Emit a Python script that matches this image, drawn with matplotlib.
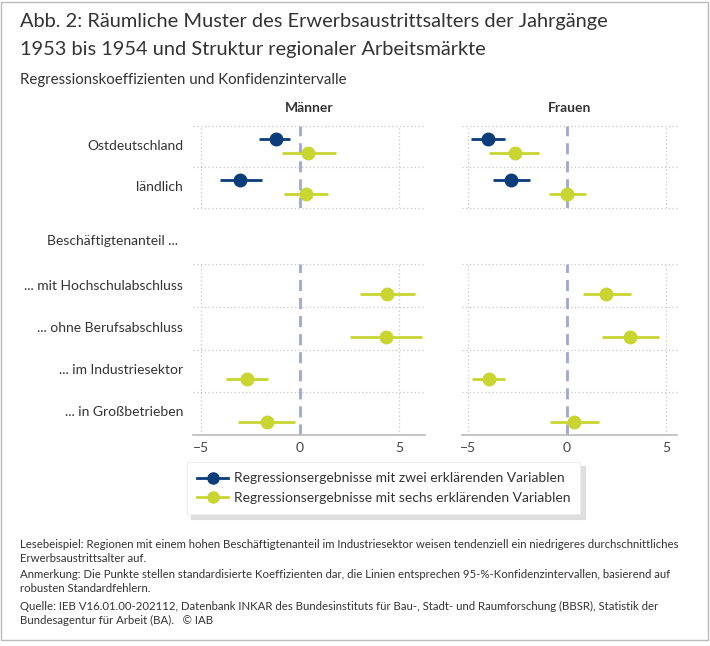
import matplotlib
matplotlib.use("Agg")
import matplotlib.pyplot as plt
from matplotlib.lines import Line2D
from matplotlib.patches import Rectangle

plt.rcParams["font.family"] = ["Lato", "DejaVu Sans"]

# Data
rows_top = ["Ostdeutschland", "ländlich"]
rows_bottom = ["... mit Hochschulabschluss", "... ohne Berufsabschluss",
               "... im Industriesektor", "... in Großbetrieben"]
panels = ["Männer", "Frauen"]

# two explanatory variables (only the top rows)
m_zwei = [-1.23, -3.01]
m_zwei_lo = [-2.07, -4.06]
m_zwei_hi = [-0.50, -1.94]
f_zwei = [-3.98, -2.81]
f_zwei_lo = [-4.87, -3.74]
f_zwei_hi = [-3.15, -1.88]

# six explanatory variables (top rows + bottom rows)
m_sechs = [0.42, 0.29, 4.38, 4.34, -2.68, -1.67]
m_sechs_lo = [-0.93, -0.79, 3.03, 2.53, -3.74, -3.11]
m_sechs_hi = [1.82, 1.40, 5.81, 6.16, -1.63, -0.24]
f_sechs = [-2.64, 0.00, 1.99, 3.19, -3.96, 0.36]
f_sechs_lo = [-3.95, -0.91, 0.81, 1.74, -4.82, -0.86]
f_sechs_hi = [-1.43, 0.95, 3.21, 4.62, -3.12, 1.60]

legend_labels = ["Regressionsergebnisse mit zwei erklärenden Variablen",
                 "Regressionsergebnisse mit sechs erklärenden Variablen"]

BLUE = "#0a3d7a"
YELLOW = "#c9d531"
ZERO = "#9ea8d0"
GRID = "#c8c8c8"
TXT = "#333333"

W, H = 710, 646
fig = plt.figure(figsize=(W / 100, H / 100), dpi=100)


def rect(x0, y0, x1, y1):
    return [x0 / W, 1 - y1 / H, (x1 - x0) / W, (y1 - y0) / H]


def style(ax, nrows, xlim, bottom):
    ax.set_xlim(*xlim)
    ax.set_ylim(nrows, 0)
    for s in ax.spines.values():
        s.set_visible(False)
    ax.set_yticks([])
    for i in range(nrows + (0 if bottom else 1)):
        ax.axhline(i, color=GRID, lw=0.9, ls=(0, (1, 2)), zorder=0, clip_on=False)
    for xv in [-5, 5]:
        ax.axvline(xv, color=GRID, lw=0.9, ls=(0, (1, 2)), zorder=0)
    ax.axvline(0, color=ZERO, lw=2, ls=(0, (4, 2.5)), zorder=1)
    if bottom:
        ax.spines["bottom"].set_visible(True)
        ax.spines["bottom"].set_color("#bbbbbb")
        ax.spines["bottom"].set_linewidth(1.2)
        ax.set_xticks([-5, 0, 5])
        ax.set_xticklabels(["\u22125", "0", "5"])
        ax.tick_params(axis="x", length=0, pad=5, labelsize=10, labelcolor="#444444")
    else:
        ax.set_xticks([])


def draw(ax, rows, coef, lo, hi, offset, color):
    for i, r in enumerate(rows):
        y = r + offset
        ax.plot([lo[i], hi[i]], [y, y], color=color, lw=2, solid_capstyle="butt", zorder=2)
        ax.plot(coef[i], y, "o", color=color, ms=9, zorder=3)


xlims = [(-5.4, 6.3), (-5.3, 5.55)]
xpix = [(193, 425), (462, 677)]
zwei = [(m_zwei, m_zwei_lo, m_zwei_hi), (f_zwei, f_zwei_lo, f_zwei_hi)]
sechs = [(m_sechs, m_sechs_lo, m_sechs_hi), (f_sechs, f_sechs_lo, f_sechs_hi)]

for p in range(2):
    x0, x1 = xpix[p]
    ax_t = fig.add_axes(rect(x0, 126, x1, 208))
    ax_b = fig.add_axes(rect(x0, 264, x1, 435))
    style(ax_t, 2, xlims[p], False)
    style(ax_b, 4, xlims[p], True)
    c, lo, hi = zwei[p]
    draw(ax_t, [0, 1], c, lo, hi, 0.32, BLUE)
    c, lo, hi = sechs[p]
    draw(ax_t, [0, 1], c[:2], lo[:2], hi[:2], 0.66, YELLOW)
    draw(ax_b, [0, 1, 2, 3], c[2:], lo[2:], hi[2:], 0.70, YELLOW)
    ax_t.set_title(panels[p], fontsize=10, fontweight="bold", color=TXT, pad=10)

# row labels
for lab, y in zip(rows_top, [146, 187]):
    fig.text(183 / W, 1 - y / H, lab, ha="right", va="center", fontsize=10, color=TXT)
fig.text(47 / W, 1 - 241 / H, "Beschäftigtenanteil ...", ha="left", va="center",
         fontsize=10, color=TXT)
for lab, y in zip(rows_bottom, [286, 328, 370, 412]):
    fig.text(183 / W, 1 - y / H, lab, ha="right", va="center", fontsize=10, color=TXT)

# titles
fig.text(20 / W, 1 - 22 / H, "Abb. 2: Räumliche Muster des Erwerbsaustrittsalters der Jahrgänge",
         ha="left", va="center", fontsize=14.4, color=TXT)
fig.text(20 / W, 1 - 49 / H, "1953 bis 1954 und Struktur regionaler Arbeitsmärkte",
         ha="left", va="center", fontsize=14.4, color=TXT)
fig.text(20 / W, 1 - 80 / H, "Regressionskoeffizienten und Konfidenzintervalle",
         ha="left", va="center", fontsize=10.8, color=TXT)

# legend
handles = [Line2D([0], [0], color=BLUE, lw=2, marker="o", ms=8),
           Line2D([0], [0], color=YELLOW, lw=2, marker="o", ms=8)]
leg = fig.legend(handles, legend_labels, loc="upper left",
                 bbox_to_anchor=(187 / W, 1 - 462 / H), frameon=True, fancybox=False,
                 shadow={"ox": 3, "oy": -3, "color": "#d8d8d8", "alpha": 0.8},
                 fontsize=10, handlelength=2.2, handletextpad=0.4, labelspacing=0.55,
                 borderpad=0.75, borderaxespad=0)
leg.get_frame().set_edgecolor("#eeeeee")
leg.get_frame().set_linewidth(0.8)
for t in leg.get_texts():
    t.set_color(TXT)

# footnotes
notes = [
    (544, "Lesebeispiel: Regionen mit einem hohen Beschäftigtenanteil im Industriesektor weisen tendenziell ein niedrigeres durchschnittliches"),
    (558, "Erwerbsaustrittsalter auf."),
    (575, "Anmerkung: Die Punkte stellen standardisierte Koeffizienten dar, die Linien entsprechen 95-%-Konfidenzintervallen, basierend auf"),
    (589, "robusten Standardfehlern."),
    (606, "Quelle: IEB V16.01.00-202112, Datenbank INKAR des Bundesinstituts für Bau-, Stadt- und Raumforschung (BBSR), Statistik der"),
    (620, "Bundesagentur für Arbeit (BA).   © IAB"),
]
for y, t in notes:
    fig.text(20 / W, 1 - y / H, t, ha="left", va="center", fontsize=8.2, color=TXT)

# outer frame
fig.patches.append(Rectangle((1.5 / W, 1 - 640 / H), 706 / W, 638 / H,
                             transform=fig.transFigure, fill=False,
                             edgecolor="#bbbbbb", lw=1))

fig.savefig("out.png", dpi=100)
